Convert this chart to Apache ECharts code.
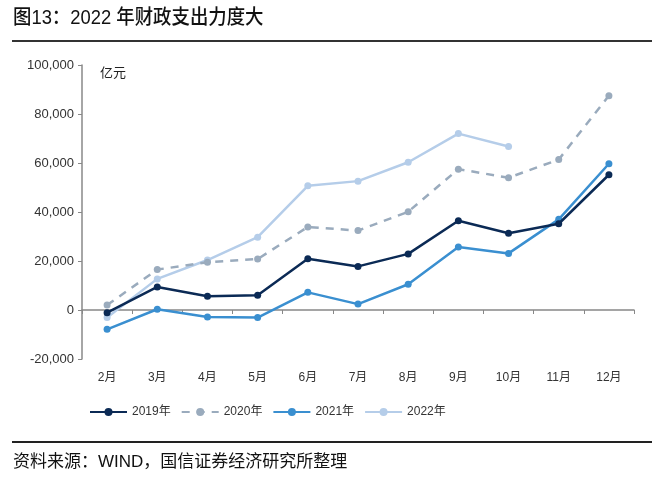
<!DOCTYPE html>
<html><head><meta charset="utf-8">
<script src="https://cdn.jsdelivr.net/npm/echarts@6/dist/echarts.min.js"></script>
<style>html,body{margin:0;padding:0;background:#fff}#c{width:652px;height:489px}</style>
</head><body><div id="c"></div>
<script>
const categories = ['2月','3月','4月','5月','6月','7月','8月','9月','10月','11月','12月'];
const s2019 = [-1100, 9400, 5600, 6000, 20900, 17800, 22900, 36400, 31300, 35200, 55200];
const s2020 = [2000, 16500, 19500, 20800, 33900, 32400, 40100, 57500, 54000, 61400, 87500];
const s2021 = [-7900, 300, -2900, -3100, 7200, 2400, 10500, 25700, 23100, 37000, 59700];
const s2022 = [-3100, 12700, 20400, 29700, 50700, 52600, 60300, 72000, 66700, null, null];
const seriesNames = ['2019年','2020年','2021年','2022年'];
const yTicks = {min: -20000, max: 100000, interval: 20000};

const chart = echarts.init(document.getElementById('c'));
const latin = '"Liberation Sans", Arial, "Noto Sans CJK SC", sans-serif';
const cjk = '"Noto Sans CJK SC", sans-serif';
function mk(name, data, color, dashed, z) {
  return {
    name, type: 'line', data, xAxisIndex: 0, yAxisIndex: 0,
    symbol: 'circle', symbolSize: 7, z,
    lineStyle: {color, width: 2.5, type: dashed ? [8, 7] : 'solid'},
    itemStyle: {color},
    connectNulls: false
  };
}
chart.setOption({
  animation: false,
  textStyle: {fontFamily: latin},
  grid: {left: 82, right: 18, top: 65, bottom: 130, containLabel: false},
  graphic: [
    {type: 'text', left: 13, top: 8, scaleX: 0.92, style: {text: '图13：2022 年财政支出力度大', font: '500 20px ' + latin, fill: '#111'}},
    {type: 'rect', shape: {x: 12, y: 40, width: 640, height: 2}, style: {fill: '#333'}},
    {type: 'text', left: 100, top: 66, style: {text: '亿元', font: '13px ' + cjk, fill: '#222'}},
    {type: 'rect', shape: {x: 12, y: 441, width: 640, height: 2}, style: {fill: '#222'}},
    {type: 'text', left: 13, top: 454, style: {text: '资料来源：WIND，国信证券经济研究所整理', font: '17px ' + latin, fill: '#111'}}
  ],
  legend: {
    data: seriesNames, top: 401, left: 84,
    itemWidth: 37, itemHeight: 10, itemGap: 10,
    textStyle: {fontSize: 12, color: '#333', fontFamily: latin}
  },
  xAxis: [
    {type: 'category', data: categories, boundaryGap: true,
     axisLine: {onZero: true, lineStyle: {color: '#888', width: 1.5}},
     axisTick: {show: true, length: 4, lineStyle: {color: '#888'}},
     axisLabel: {show: false}},
    {type: 'category', data: categories, boundaryGap: true, position: 'bottom',
     axisLine: {show: false, onZero: false}, axisTick: {show: false},
     axisLabel: {show: true, fontSize: 12, color: '#333', margin: 13}}
  ],
  yAxis: {
    type: 'value', min: yTicks.min, max: yTicks.max, interval: yTicks.interval,
    axisLine: {show: true, lineStyle: {color: '#888', width: 1.5}},
    axisTick: {show: true, length: 4, lineStyle: {color: '#888'}},
    splitLine: {show: false},
    axisLabel: {fontSize: 13, color: '#333', margin: 8,
      formatter: v => v.toLocaleString('en-US')}
  },
  series: [
    mk(seriesNames[0], s2019, '#0b2a55', false, 5),
    mk(seriesNames[1], s2020, '#9aabbd', true, 3),
    mk(seriesNames[2], s2021, '#3a8fd0', false, 4),
    mk(seriesNames[3], s2022, '#b5cde9', false, 2)
  ]
});
</script></body></html>
